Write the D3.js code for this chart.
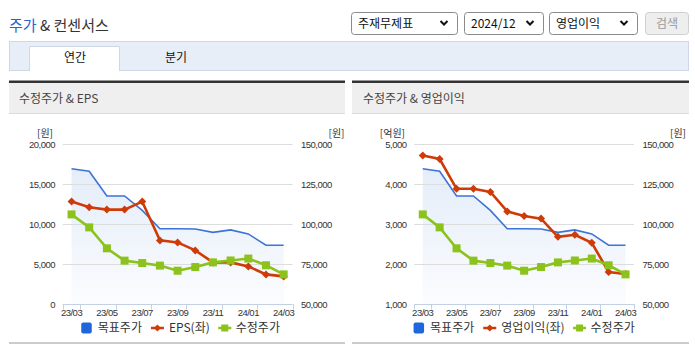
<!DOCTYPE html>
<html><head><meta charset="utf-8">
<script src="https://cdn.jsdelivr.net/npm/d3@7"></script>
<style>
html,body{margin:0;padding:0;background:#fff;}
svg{display:block;}
.kr{font-family:"Noto Sans CJK KR","Noto Sans",sans-serif;}
.num{font-family:"Liberation Sans",Arial,sans-serif;}
</style></head>
<body>
<svg id="c" width="695" height="349"></svg>
<script>
// ---- data ----
const months = ["23/03","23/04","23/05","23/06","23/07","23/08","23/09","23/10","23/11","23/12","24/01","24/02","24/03"];
const targetPrice = [134500,133000,117500,117500,108500,97000,97000,96900,94800,96300,93800,86700,86700];
const adjPrice    = [106000,97900,84800,77100,75600,74000,70800,73100,76000,77200,78400,74200,68500];
const eps         = [12800,12100,11800,11800,12800,7950,7700,6700,5200,5200,4700,3700,3450];
const opProfit    = [4710,4625,3880,3880,3800,3315,3200,3135,2680,2730,2530,1800,1750];
const epsTicks    = [0,5000,10000,15000,20000];
const opTicks     = [1000,2000,3000,4000,5000];
const priceTicks  = [50000,75000,100000,125000,150000];
const selectLabels = ["주재무제표","2024/12","영업이익"];
const tabLabels = ["연간","분기"];

const svg = d3.select("#c");
const defs = svg.append("defs");
const grad = defs.append("linearGradient").attr("id","areaGrad")
  .attr("gradientUnits","userSpaceOnUse").attr("x1",0).attr("x2",0).attr("y1",160).attr("y2",304);
grad.append("stop").attr("offset","0").attr("stop-color","#e2ecf9");
grad.append("stop").attr("offset","1").attr("stop-color","#fbfcfe");

// ---- header ----
const title = svg.append("text").attr("class","kr").attr("x",9).attr("y",31).attr("font-size",15);
title.append("tspan").attr("fill","#2b5fd1").text("주가");
title.append("tspan").attr("fill","#333").text(" & 컨센서스");

const selBoxes = [{x:351,w:106},{x:464,w:79},{x:549,w:88}];
selBoxes.forEach((b,i)=>{
  svg.append("rect").attr("x",b.x+0.5).attr("y",12.5).attr("width",b.w).attr("height",22).attr("rx",3)
    .attr("fill","#fff").attr("stroke","#8a8a8a");
  svg.append("text").attr("class","kr").attr("x",b.x+7).attr("y",28).attr("font-size",12).attr("fill","#111")
    .text(selectLabels[i]);
  const cx = b.x+b.w-13;
  svg.append("path").attr("d",`M${cx-3.5},${21} L${cx},${24.5} L${cx+3.5},${21}`)
    .attr("fill","none").attr("stroke","#111").attr("stroke-width",2);
});
svg.append("rect").attr("x",645.5).attr("y",12.5).attr("width",43).attr("height",22).attr("rx",3)
  .attr("fill","#eeeeee").attr("stroke","#cfcfcf");
svg.append("text").attr("class","kr").attr("x",667).attr("y",28).attr("text-anchor","middle")
  .attr("font-size",12).attr("fill","#9a9a9a").text("검색");

// tabs
svg.append("rect").attr("x",9.5).attr("y",41.5).attr("width",679).attr("height",29)
  .attr("fill","#e8eef8").attr("stroke","#cdd7e6");
svg.append("rect").attr("x",29).attr("y",46).attr("width",91).attr("height",25).attr("fill","#fff");
svg.append("path").attr("d","M29.5,71 L29.5,46.5 L119.5,46.5 L119.5,71").attr("fill","none").attr("stroke","#cdd7e6");
svg.append("text").attr("class","kr").attr("x",75).attr("y",62).attr("text-anchor","middle")
  .attr("font-size",12).attr("fill","#111").text(tabLabels[0]);
svg.append("text").attr("class","kr").attr("x",176).attr("y",62).attr("text-anchor","middle")
  .attr("font-size",12).attr("fill","#111").text(tabLabels[1]);

// ---- charts ----
const Y_TOP = 144, Y_BOT = 304;
const charts = [
  {px0:9, px1:345, plotL:62.7, plotR:292.5, title:"수정주가 & EPS", titleX:19,
   left:eps, leftTicks:epsTicks, leftUnit:"[원]", leftName:"EPS(좌)", unitRX:53},
  {px0:352, px1:689, plotL:414.3, plotR:634, title:"수정주가 & 영업이익", titleX:363,
   left:opProfit, leftTicks:opTicks, leftUnit:"[억원]", leftName:"영업이익(좌)", unitRX:405}
];

const BLUE="#3b73d6", RED="#cf3b08", GREEN="#8cc21c";

function diamond(g,x,y,r){
  g.append("path").attr("d",`M${x},${y-r} L${x+r},${y} L${x},${y+r} L${x-r},${y} Z`).attr("fill",RED);
}

charts.forEach(cfg=>{
  const g = svg.append("g");
  // panel header
  g.append("rect").attr("x",cfg.px0).attr("y",80.5).attr("width",cfg.px1-cfg.px0).attr("height",2.5).attr("fill","#333");
  g.append("rect").attr("x",cfg.px0).attr("y",83).attr("width",cfg.px1-cfg.px0).attr("height",30).attr("fill","#efefef");
  g.append("line").attr("x1",cfg.px0).attr("x2",cfg.px1).attr("y1",113.5).attr("y2",113.5).attr("stroke","#dcdcdc");
  g.append("text").attr("class","kr").attr("x",cfg.titleX).attr("y",103).attr("font-size",12).attr("fill","#444").text(cfg.title);
  g.append("rect").attr("x",cfg.px0).attr("y",342).attr("width",cfg.px1-cfg.px0).attr("height",2).attr("fill","#cccccc");

  const x = d3.scaleBand().domain(months).range([cfg.plotL,cfg.plotR]);
  const bw = x.bandwidth();
  const cx = m => x(m)+bw/2;
  const yL = d3.scaleLinear().domain(d3.extent(cfg.leftTicks)).range([Y_BOT,Y_TOP]);
  const yR = d3.scaleLinear().domain(d3.extent(priceTicks)).range([Y_BOT,Y_TOP]);

  // area of target price
  g.append("path").datum(targetPrice)
    .attr("d",d3.area().x((d,i)=>cx(months[i])).y0(Y_BOT).y1(d=>yR(d)))
    .attr("fill","url(#areaGrad)");

  // gridlines
  g.selectAll(".grid").data(cfg.leftTicks.slice(1)).enter().append("line")
    .attr("x1",cfg.plotL).attr("x2",cfg.plotR)
    .attr("y1",d=>Math.round(yL(d))+0.5).attr("y2",d=>Math.round(yL(d))+0.5)
    .attr("stroke","#dddddd");

  // left axis labels
  const ax = g.append("g").attr("transform",`translate(${cfg.plotL},0)`)
    .call(d3.axisLeft(yL).tickValues(cfg.leftTicks).tickFormat(d3.format(",")).tickSize(0).tickPadding(7.7));
  ax.select(".domain").remove();
  ax.selectAll("text").attr("class","num").attr("font-size",9.5).attr("letter-spacing",-0.5).attr("fill","#333");
  // right axis labels
  const axr = g.append("g").attr("transform",`translate(${cfg.plotR},0)`)
    .call(d3.axisRight(yR).tickValues(priceTicks).tickFormat(d3.format(",")).tickSize(0).tickPadding(8.5));
  axr.select(".domain").remove();
  axr.selectAll("text").attr("class","num").attr("font-size",9.5).attr("letter-spacing",-0.5).attr("fill","#333");

  // units
  g.append("text").attr("class","kr").attr("x",cfg.unitRX).attr("y",137).attr("text-anchor","end")
    .attr("font-size",10).attr("fill","#333").text(cfg.leftUnit);
  g.append("text").attr("class","kr").attr("x",cfg.plotR+36).attr("y",137)
    .attr("font-size",10).attr("fill","#333").text("[원]");

  // x axis
  const xa = g.append("g").attr("transform",`translate(0,${Y_BOT})`)
    .call(d3.axisBottom(x).tickValues(months.filter((m,i)=>i%2===0)).tickSize(0).tickPadding(5));
  xa.select(".domain").remove();
  xa.selectAll("text").attr("class","num").attr("font-size",9.5).attr("letter-spacing",-0.5).attr("fill","#333");
  g.append("line").attr("x1",cfg.plotL).attr("x2",cfg.plotR).attr("y1",Y_BOT+0.5).attr("y2",Y_BOT+0.5).attr("stroke","#c3d1e2");
  const tickXs = [cfg.plotL].concat(months.filter((m,i)=>i%2===0).map(m=>x(m)+bw));
  g.selectAll(".xt").data(tickXs).enter().append("line")
    .attr("x1",d=>Math.round(d)+0.5).attr("x2",d=>Math.round(d)+0.5)
    .attr("y1",Y_BOT).attr("y2",Y_BOT+5.5).attr("stroke","#c3d1e2");

  // lines
  g.append("path").datum(targetPrice)
    .attr("d",d3.line().x((d,i)=>cx(months[i])).y(d=>yR(d)))
    .attr("fill","none").attr("stroke",BLUE).attr("stroke-width",1.6);
  g.append("path").datum(cfg.left)
    .attr("d",d3.line().x((d,i)=>cx(months[i])).y(d=>yL(d)))
    .attr("fill","none").attr("stroke",RED).attr("stroke-width",2.6);
  cfg.left.forEach((d,i)=>diamond(g,cx(months[i]),yL(d),4));
  g.append("path").datum(adjPrice)
    .attr("d",d3.line().x((d,i)=>cx(months[i])).y(d=>yR(d)))
    .attr("fill","none").attr("stroke",GREEN).attr("stroke-width",2.6);
  g.selectAll(".sq").data(adjPrice).enter().append("rect")
    .attr("x",(d,i)=>cx(months[i])-4).attr("y",d=>yR(d)-4).attr("width",8).attr("height",8).attr("fill",GREEN);

  // legend
  const lg = g.append("g");
  const LY = 328;
  let lx = 0;
  lg.append("rect").attr("x",lx).attr("y",LY-5.5).attr("width",10.5).attr("height",11).attr("rx",2).attr("fill","#1f66dd");
  lx += 16.5;
  const t1 = lg.append("text").attr("class","kr").attr("x",lx).attr("y",LY+4.2).attr("font-size",12).attr("fill","#333").text("목표주가");
  lx += t1.node().getComputedTextLength()+9;
  lg.append("line").attr("x1",lx).attr("x2",lx+13).attr("y1",LY).attr("y2",LY).attr("stroke",RED).attr("stroke-width",2.5);
  diamond(lg,lx+6.5,LY,3.5);
  lx += 18;
  const t2 = lg.append("text").attr("class","kr").attr("x",lx).attr("y",LY+4.2).attr("font-size",12).attr("fill","#333").text(cfg.leftName);
  lx += t2.node().getComputedTextLength()+8.5;
  lg.append("line").attr("x1",lx).attr("x2",lx+13).attr("y1",LY).attr("y2",LY).attr("stroke",GREEN).attr("stroke-width",2.5);
  lg.append("rect").attr("x",lx+3).attr("y",LY-3.5).attr("width",7).attr("height",7).attr("fill",GREEN);
  lx += 17.5;
  const t3 = lg.append("text").attr("class","kr").attr("x",lx).attr("y",LY+4.2).attr("font-size",12).attr("fill","#333").text("수정주가");
  lx += t3.node().getComputedTextLength();
  const center = (cfg.plotL+cfg.plotR)/2 + (cfg.px0<100?3:0);
  lg.attr("transform",`translate(${center-lx/2},0)`);
});
</script>
</body></html>
